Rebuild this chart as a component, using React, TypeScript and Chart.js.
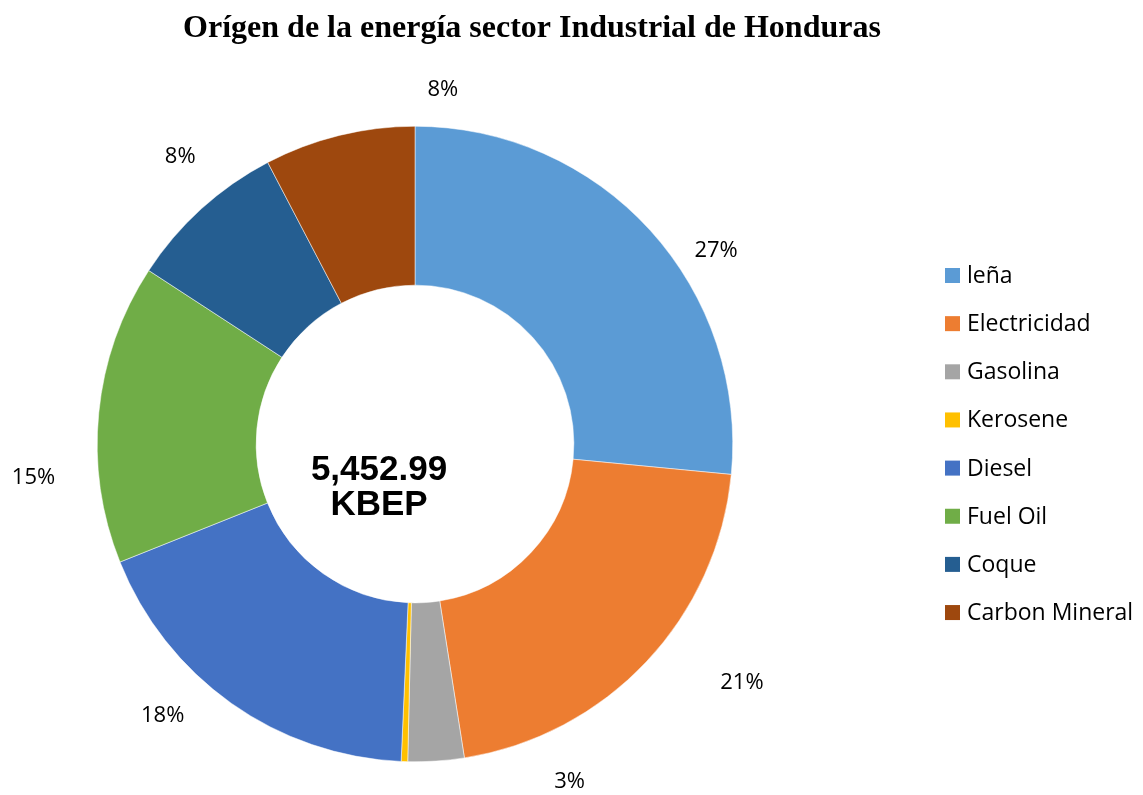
import React, { useEffect, useRef } from "react";
import { Chart, registerables } from "chart.js";

Chart.register(...registerables);

const TITLE = "Orígen de la energía sector Industrial de Honduras";
const CATEGORIES = ["leña", "Electricidad", "Gasolina", "Kerosene", "Diesel", "Fuel Oil", "Coque", "Carbon Mineral"];
const VALUES = [26.53, 20.99, 2.85, 0.33, 18.25, 15.25, 8.14, 7.67];
const COLORS = ["#5B9BD5", "#ED7D31", "#A5A5A5", "#FFC000", "#4472C4", "#70AD47", "#255E91", "#9E480E"];
const CENTER_LINES = ["5,452.99", "KBEP"];

// label placement tweaks (degrees relative to slice middle, and distance from centre)
const LABEL_NUDGE = [9.5, -7.1, -20.8, 0, 7.5, -10.7, 3, 18.3];
const LABEL_DIST = [358, 405, 371, 0, 371, 383, 371, 355];

const overlayPlugin = {
  id: "overlay",
  afterDraw(chart: any) {
    const ctx = chart.ctx;
    const meta = chart.getDatasetMeta(0);
    const arc0 = meta.data[0];
    const cx = arc0.x;
    const cy = arc0.y;
    const total = VALUES.reduce((a, b) => a + b, 0);
    ctx.save();
    // title
    ctx.fillStyle = "#000000";
    ctx.font = "bold 32px 'Liberation Serif', 'Times New Roman', serif";
    ctx.textAlign = "center";
    ctx.textBaseline = "alphabetic";
    ctx.fillText(TITLE, 532, 37);

    // percentage labels
    ctx.textBaseline = "middle";
    ctx.font = "22px 'Open Sans', sans-serif";
    ctx.fillStyle = "#000000";
    meta.data.forEach((arc: any, i: number) => {
      const pct = Math.round((VALUES[i] / total) * 100);
      if (pct === 0) return;
      const mid = (arc.startAngle + arc.endAngle) / 2 + (LABEL_NUDGE[i] * Math.PI) / 180;
      const x = cx + Math.cos(mid) * LABEL_DIST[i];
      const y = cy + Math.sin(mid) * LABEL_DIST[i];
      ctx.fillText(pct + "%", x, y);
    });

    // centre text
    ctx.font = "bold 35px 'Liberation Sans', Arial, sans-serif";
    ctx.fillText(CENTER_LINES[0], cx - 36, cy + 26);
    ctx.fillText(CENTER_LINES[1], cx - 36, cy + 61);

    // legend
    ctx.font = "23px 'Open Sans', sans-serif";
    ctx.textAlign = "left";
    CATEGORIES.forEach((c, i) => {
      const yc = 275.5 + i * 48.15;
      ctx.fillStyle = COLORS[i];
      ctx.fillRect(945, yc - 7.5, 15, 15);
      ctx.fillStyle = "#000000";
      ctx.fillText(c, 967, yc + 1);
    });
    ctx.restore();
  },
};

export default function App() {
  const ref = useRef<HTMLCanvasElement>(null);
  useEffect(() => {
    if (!ref.current) return;
    const chart = new Chart(ref.current, {
      type: "doughnut",
      data: {
        labels: CATEGORIES,
        datasets: [
          {
            data: VALUES,
            backgroundColor: COLORS,
            borderColor: "#ffffff",
            borderWidth: 0.5,
          },
        ],
      },
      options: {
        animation: false,
        responsive: true,
        maintainAspectRatio: false,
        events: [],
        cutout: "50%",
        layout: { padding: { left: 97, right: 410, top: 126, bottom: 33 } },
        plugins: {
          legend: { display: false },
          title: { display: false },
          tooltip: { enabled: false },
        },
      },
      plugins: [overlayPlugin],
    });
    return () => chart.destroy();
  }, []);
  return (
    <div style={{ position: "fixed", left: 0, top: 0, width: 1143, height: 795, background: "#ffffff" }}>
      <canvas ref={ref} style={{ display: "block" }} />
    </div>
  );
}
